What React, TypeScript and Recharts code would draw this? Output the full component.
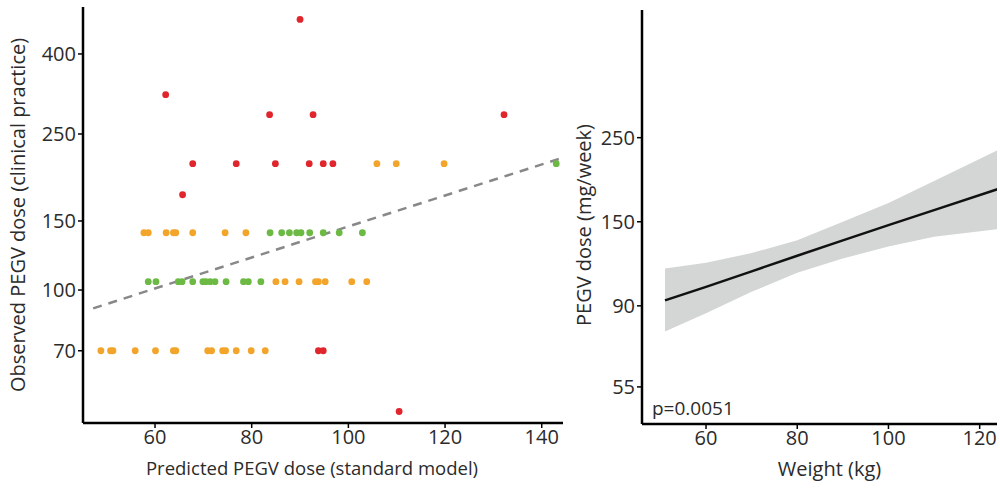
import React from "react";
import {
  ComposedChart,
  Scatter,
  Line,
  Area,
  XAxis,
  YAxis,
} from "recharts";

// left panel: observed vs predicted dose (points grouped by colour)
const redPoints = [
  { x: 90, y: 490 },
  { x: 62.2, y: 315 },
  { x: 83.7, y: 280 },
  { x: 92.7, y: 280 },
  { x: 132.2, y: 280 },
  { x: 67.8, y: 210 },
  { x: 76.8, y: 210 },
  { x: 84.9, y: 210 },
  { x: 91.9, y: 210 },
  { x: 94.8, y: 210 },
  { x: 96.8, y: 210 },
  { x: 65.7, y: 175 },
  { x: 93.8, y: 70 },
  { x: 94.8, y: 70 },
  { x: 110.5, y: 49 },
];

const orangePoints = [
  { x: 105.9, y: 210 },
  { x: 109.9, y: 210 },
  { x: 119.8, y: 210 },
  { x: 57.7, y: 140 },
  { x: 58.6, y: 140 },
  { x: 62.3, y: 140 },
  { x: 63.8, y: 140 },
  { x: 64.3, y: 140 },
  { x: 67.8, y: 140 },
  { x: 74.5, y: 140 },
  { x: 78.8, y: 140 },
  { x: 85, y: 105 },
  { x: 86.9, y: 105 },
  { x: 89.8, y: 105 },
  { x: 93.2, y: 105 },
  { x: 93.8, y: 105 },
  { x: 95.2, y: 105 },
  { x: 100.7, y: 105 },
  { x: 103.8, y: 105 },
  { x: 48.8, y: 70 },
  { x: 50.8, y: 70 },
  { x: 51.3, y: 70 },
  { x: 55.9, y: 70 },
  { x: 60.1, y: 70 },
  { x: 63.8, y: 70 },
  { x: 64.3, y: 70 },
  { x: 70.9, y: 70 },
  { x: 71.7, y: 70 },
  { x: 74, y: 70 },
  { x: 74.6, y: 70 },
  { x: 76.8, y: 70 },
  { x: 79.9, y: 70 },
  { x: 82.8, y: 70 },
];

const greenPoints = [
  { x: 143, y: 210 },
  { x: 83.8, y: 140 },
  { x: 86.2, y: 140 },
  { x: 87.8, y: 140 },
  { x: 89.3, y: 140 },
  { x: 90.2, y: 140 },
  { x: 92, y: 140 },
  { x: 94.8, y: 140 },
  { x: 98.1, y: 140 },
  { x: 102.9, y: 140 },
  { x: 58.6, y: 105 },
  { x: 60.2, y: 105 },
  { x: 64.8, y: 105 },
  { x: 65.6, y: 105 },
  { x: 67.8, y: 105 },
  { x: 69.9, y: 105 },
  { x: 70.5, y: 105 },
  { x: 71.4, y: 105 },
  { x: 72.4, y: 105 },
  { x: 74.7, y: 105 },
  { x: 78.3, y: 105 },
  { x: 79.3, y: 105 },
  { x: 81.9, y: 105 },
];

const dashedFit = [
  { x: 47.2, y: 89.8 },
  { x: 144.4, y: 217.6 },
];

const leftXTicks = [60, 80, 100, 120, 140];
const leftYTicks = [70, 100, 150, 250, 400];

// right panel: dose vs weight with confidence band
const weights = [51, 60, 70, 80, 90, 100, 110, 124];
const fitDose = [93, 101, 111, 122, 134, 147, 161, 183];
const lowerDose = [77, 86, 98, 110, 120, 129, 137, 143.5];
const upperDose = [113, 117, 124, 134, 150, 168, 192, 232];

const rightXTicks = [60, 80, 100, 120];
const rightYTicks = [55, 90, 150, 250];

const bandData = weights.map((w, i) => ({
  w,
  fit: fitDose[i],
  band: [lowerDose[i], upperDose[i]],
}));

const FONT = "'Open Sans', sans-serif";
const tickStyle = { fill: "#2b2b2b", fontSize: 20, fontFamily: FONT };
const labelStyle = { fill: "#2b2b2b", fontSize: 20, fontFamily: FONT };
const axisLine = { stroke: "#000", strokeWidth: 2.5 };
const tickLine = { stroke: "#000", strokeWidth: 1.5 };

const dot = (color: string) => (props: any) =>
  <circle cx={props.cx} cy={props.cy} r={3.4} fill={color} />;

export default function App() {
  return (
    <div
      style={{
        position: "relative",
        width: 1000,
        height: 497,
        background: "#fff",
        fontFamily: FONT,
      }}
    >
      <style>{`body{margin:0}`}</style>
      <div style={{ position: "absolute", left: 0, top: 0 }}>
        <ComposedChart
          width={566}
          height={497}
          margin={{ top: 7, right: 3, bottom: 18, left: 0 }}
        >
          <XAxis
            type="number"
            dataKey="x"
            domain={[45.1, 144.4]}
            allowDataOverflow
            ticks={leftXTicks}
            tick={tickStyle}
            axisLine={axisLine}
            tickLine={tickLine}
            tickSize={5}
            height={56}
            label={{
              value: "Predicted PEGV dose (standard model)",
              position: "insideBottom",
              offset: 4,
              dx: -11,
              style: { ...labelStyle, fontSize: 18.5 },
            }}
          />
          <YAxis
            type="number"
            dataKey="y"
            scale="log"
            domain={[45.8, 527]}
            allowDataOverflow
            ticks={leftYTicks}
            tick={tickStyle}
            axisLine={axisLine}
            tickLine={tickLine}
            tickSize={5}
            width={83}
            label={{
              value: "Observed PEGV dose (clinical practice)",
              angle: -90,
              position: "insideLeft",
              offset: 18,
              style: { ...labelStyle, textAnchor: "middle" },
            }}
          />
          <Scatter data={orangePoints} shape={dot("#f2a52a")} isAnimationActive={false} />
          <Scatter data={greenPoints} shape={dot("#6cb944")} isAnimationActive={false} />
          <Scatter data={redPoints} shape={dot("#e0262c")} isAnimationActive={false} />
          <Line
            data={dashedFit}
            dataKey="y"
            stroke="#888"
            strokeWidth={2.5}
            strokeDasharray="9 7"
            dot={false}
            isAnimationActive={false}
          />
        </ComposedChart>
      </div>
      <div style={{ position: "absolute", left: 560, top: 0 }}>
        <ComposedChart
          width={440}
          height={497}
          data={bandData}
          margin={{ top: 10, right: 3, bottom: 17, left: 0 }}
        >
          <XAxis
            type="number"
            dataKey="w"
            domain={[45.96, 123.8]}
            allowDataOverflow
            ticks={rightXTicks}
            tick={tickStyle}
            axisLine={axisLine}
            tickLine={tickLine}
            tickSize={5}
            height={56}
            label={{
              value: "Weight (kg)",
              position: "insideBottom",
              offset: 4,
              dx: 10,
              style: labelStyle,
            }}
          />
          <YAxis
            type="number"
            scale="log"
            domain={[43.9, 543]}
            allowDataOverflow
            ticks={rightYTicks}
            tick={tickStyle}
            axisLine={axisLine}
            tickLine={tickLine}
            tickSize={5}
            width={82}
            label={{
              value: "PEGV dose (mg/week)",
              angle: -90,
              position: "insideLeft",
              offset: 24,
              dy: 8,
              style: { ...labelStyle, textAnchor: "middle" },
            }}
          />
          <Area
            dataKey="band"
            stroke="none"
            fill="#d4d6d6"
            fillOpacity={1}
            isAnimationActive={false}
          />
          <Line
            dataKey="fit"
            stroke="#111"
            strokeWidth={2.5}
            dot={false}
            isAnimationActive={false}
          />
        </ComposedChart>
      </div>
      <div
        style={{
          position: "absolute",
          left: 652,
          top: 396,
          fontSize: 19,
          color: "#2b2b2b",
          lineHeight: "24px",
        }}
      >
        p=0.0051
      </div>
    </div>
  );
}
